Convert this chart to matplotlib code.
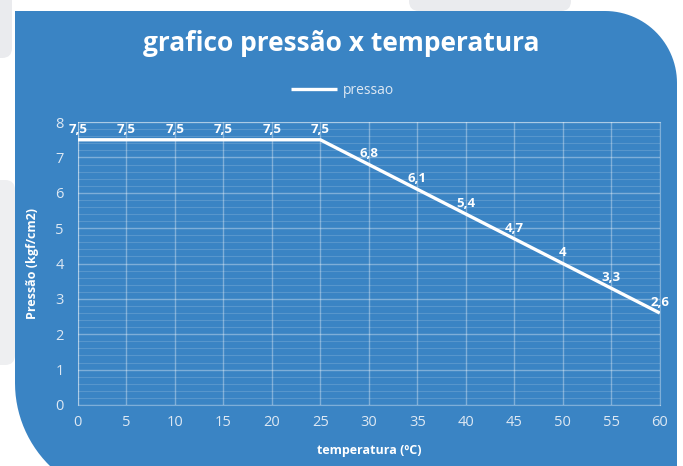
import numpy as np
import matplotlib
matplotlib.use('Agg')
import matplotlib.pyplot as plt
from matplotlib.path import Path
from matplotlib.patches import PathPatch, FancyBboxPatch

# ── Dati ──────────────────────────────────────────────────────────────
temperatura = [0, 5, 10, 15, 20, 25, 30, 35, 40, 45, 50, 55, 60]
pressao = [7.5, 7.5, 7.5, 7.5, 7.5, 7.5, 6.8, 6.1, 5.4, 4.7, 4.0, 3.3, 2.6]
x_ticks = list(range(0, 61, 5))
y_ticks = list(range(0, 9))

BLUE = '#3a84c4'
GREY = '#eaebee'
TICK = '#dde8f3'
plt.rcParams['font.family'] = ['Open Sans', 'DejaVu Sans']

W, H = 683, 466
fig = plt.figure(figsize=(W / 100, H / 100), dpi=100)
fig.patch.set_facecolor('white')

# ── Sfondo: pannello blu arrotondato (coordinate pixel) ───────────────
bg = fig.add_axes([0, 0, 1, 1], zorder=0)
bg.set_xlim(0, W)
bg.set_ylim(H, 0)
bg.axis('off')

for (x0, y0, w, h, c) in [(-20, -20, 32, 78, GREY), (409, -20, 162, 31, GREY),
                          (-20, 180, 35, 185, '#eeeff1')]:
    bg.add_patch(FancyBboxPatch((x0, y0), w, h, boxstyle='round,pad=0,rounding_size=10',
                                fc=c, ec='none'))

def arc(cx, cy, r, a0, a1, n=30):
    a = np.radians(np.linspace(a0, a1, n))
    return list(zip(cx + r * np.cos(a), cy + r * np.sin(a)))

L, T, R = 15, 11, 677
r_tr, r_bl = 72, 116
pts = [(L, T), (R - r_tr, T)]
pts += arc(R - r_tr, T + r_tr, r_tr, -90, 0)
pts += [(R, H + 60)]
pts += arc(L + r_bl, 383, r_bl, 90, 180)
pts += [(L, T)]
bg.add_patch(PathPatch(Path(pts), fc=BLUE, ec='none'))

# ── Grafico ───────────────────────────────────────────────────────────
ax = fig.add_axes([0.114, 0.131, 0.852, 0.607], zorder=1)
ax.patch.set_alpha(0)
ax.set_xlim(0, 60)
ax.set_ylim(0, 8)
ax.set_xticks(x_ticks)
ax.set_yticks(y_ticks)
ax.set_yticks(np.arange(0, 8.01, 0.2), minor=True)
ax.grid(True, which='major', color='white', alpha=0.35, lw=1.0)
ax.grid(True, which='minor', axis='y', color='white', alpha=0.15, lw=0.8)
for s in ax.spines.values():
    s.set_color('white')
    s.set_alpha(0.35)
ax.tick_params(which='both', length=0, colors=TICK, labelsize=10.5)
ax.tick_params(axis='x', pad=7)
ax.tick_params(axis='y', pad=10)

ax.plot(temperatura, pressao, color='white', lw=2.4, label='pressao', solid_capstyle='butt')
for t, p in zip(temperatura, pressao):
    ax.annotate(f"{p:g}".replace('.', ','), (t, p), xytext=(0, 3), textcoords='offset points',
                ha='center', va='bottom', color='white', fontsize=9.5, fontweight='bold')

ax.set_xlabel('temperatura (ºC)', color='white', fontsize=9, fontweight='bold', labelpad=10)
ax.set_ylabel('Pressão (kgf/cm2)', color='white', fontsize=9, fontweight='bold', labelpad=12)

leg = ax.legend(loc='lower center', bbox_to_anchor=(0.455, 1.04), frameon=False, fontsize=10,
                handlelength=3.3, handletextpad=0.4)
for txt in leg.get_texts():
    txt.set_color(TICK)

fig.text(0.5, 0.907, 'grafico pressão x temperatura', ha='center', va='center',
         color='white', fontsize=19, fontweight='bold')

plt.savefig('out.png', dpi=100)
